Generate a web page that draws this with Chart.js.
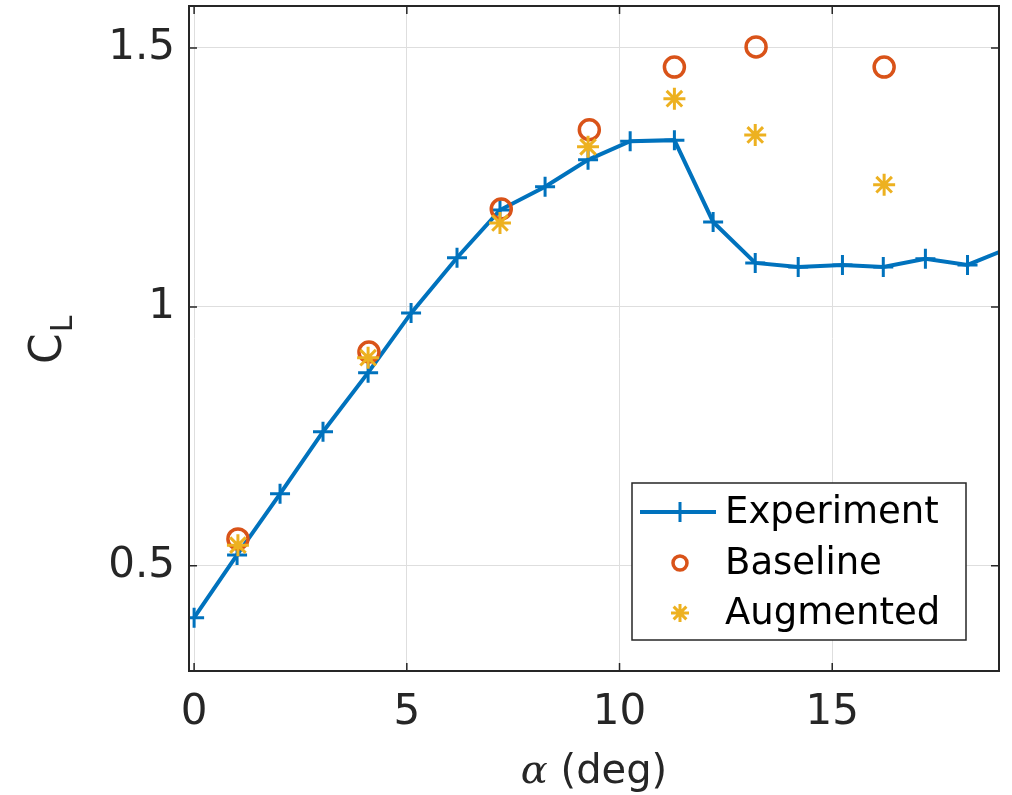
<!DOCTYPE html>
<html>
<head>
<meta charset="utf-8">
<script src="https://cdn.jsdelivr.net/npm/chart.js@4.4.1/dist/chart.umd.min.js"></script>
<style>
    body { margin: 0; background: #fff; }
    #wrap { width: 1012px; height: 795px; }
</style>
</head>
<body>
<div id="wrap"><canvas id="liftChart" width="1012" height="795"></canvas></div>
<script>
// Angle of attack (deg) and lift coefficient
const expAlpha = [0, 1.01, 2.02, 3.03, 4.09, 5.10, 6.18, 7.19, 8.25, 9.26, 10.25, 11.29, 12.20, 13.19, 14.20, 15.24, 16.20, 17.19, 18.18, 19.2];
const expCL = [0.40, 0.521, 0.639, 0.759, 0.873, 0.988, 1.095, 1.187, 1.232, 1.284, 1.320, 1.322, 1.164, 1.085, 1.077, 1.081, 1.077, 1.093, 1.081, 1.115];

const baseAlpha = [1.03, 4.11, 7.22, 9.29, 11.29, 13.21, 16.22];
const baseCL = [0.552, 0.913, 1.189, 1.342, 1.463, 1.502, 1.463];

const augAlpha = [1.03, 4.09, 7.19, 9.26, 11.29, 13.19, 16.22];
const augCL = [0.540, 0.902, 1.162, 1.309, 1.402, 1.332, 1.236];

const xTicks = [0, 5, 10, 15];
const yTicks = [0.5, 1, 1.5];

const toPoints = (xs, ys) => xs.map((x, i) => ({ x: x, y: ys[i] }));

const axisColor = '#262626';
const tickFont = { family: 'DejaVu Sans', size: 42 };

// box round the axes with inward ticks on all four sides
const boxPlugin = {
    id: 'box',
    afterDraw(chart) {
        const { ctx, chartArea: a, scales } = chart;
        ctx.save();
        ctx.strokeStyle = axisColor;
        ctx.lineWidth = 1.5;
        ctx.beginPath();
        xTicks.forEach(v => {
            const px = scales.x.getPixelForValue(v);
            ctx.moveTo(px, a.bottom); ctx.lineTo(px, a.bottom - 8);
            ctx.moveTo(px, a.top); ctx.lineTo(px, a.top + 8);
        });
        yTicks.forEach(v => {
            const py = scales.y.getPixelForValue(v);
            ctx.moveTo(a.left, py); ctx.lineTo(a.left + 8, py);
            ctx.moveTo(a.right, py); ctx.lineTo(a.right - 8, py);
        });
        ctx.stroke();
        ctx.lineWidth = 2;
        ctx.strokeRect(a.left, a.top, a.right - a.left, a.bottom - a.top);
        ctx.restore();
    }
};

// axis titles: C_L with subscript, italic alpha
const titlePlugin = {
    id: 'titles',
    afterDraw(chart) {
        const { ctx, chartArea: a } = chart;
        ctx.save();
        ctx.fillStyle = axisColor;
        ctx.textBaseline = 'alphabetic';

        // x title
        const f1 = 'italic 40px "DejaVu Serif"';
        const f2 = '40px "DejaVu Sans"';
        ctx.font = f1;
        const w1 = ctx.measureText('\u03b1').width;
        ctx.font = f2;
        const w2 = ctx.measureText(' (deg)').width;
        let x0 = (a.left + a.right) / 2 - (w1 + w2) / 2;
        ctx.font = f1;
        ctx.fillText('\u03b1', x0, 783);
        ctx.font = f2;
        ctx.fillText(' (deg)', x0 + w1, 783);

        // y title, rotated
        ctx.translate(61, 364);
        ctx.rotate(-Math.PI / 2);
        ctx.font = '44px "DejaVu Sans"';
        ctx.fillText('C', 0, 0);
        const wc = ctx.measureText('C').width;
        ctx.font = '30px "DejaVu Sans"';
        ctx.fillText('L', wc + 1, 11);
        ctx.restore();
    }
};

// legend box in the lower right corner of the axes
const legendPlugin = {
    id: 'boxLegend',
    afterDraw(chart) {
        const { ctx, chartArea: a } = chart;
        const left = a.right - 367, top = a.bottom - 188;
        const w = 334, h = 157;
        ctx.save();
        ctx.fillStyle = '#fff';
        ctx.fillRect(left, top, w, h);
        ctx.strokeStyle = axisColor;
        ctx.lineWidth = 1.5;
        ctx.strokeRect(left, top, w, h);

        const rows = [29, 80, 130];
        chart.data.datasets.forEach((ds, i) => {
            const y = top + rows[i];
            const mx = left + 48;
            ctx.strokeStyle = ds.borderColor;
            ctx.fillStyle = 'rgba(0,0,0,0)';
            if (ds.showLine) {
                ctx.lineWidth = ds.borderWidth;
                ctx.beginPath();
                ctx.moveTo(left + 8, y);
                ctx.lineTo(left + 84, y);
                ctx.stroke();
            }
            ctx.lineWidth = ds.pointBorderWidth;
            Chart.helpers.drawPoint(ctx, {
                pointStyle: ds.pointStyle,
                radius: ds.legendRadius,
                rotation: 0,
                borderWidth: ds.pointBorderWidth
            }, mx, y);
            ctx.fillStyle = '#000';
            ctx.font = '37px "DejaVu Sans"';
            ctx.textBaseline = 'middle';
            ctx.fillText(ds.label, left + 93, y + 1);
        });
        ctx.restore();
    }
};

const liftCtx = document.getElementById('liftChart').getContext('2d');
const liftChart = new Chart(liftCtx, {
    type: 'scatter',
    data: {
        datasets: [
            {
                label: 'Experiment',
                data: toPoints(expAlpha, expCL),
                showLine: true,
                borderColor: '#0072BD',
                backgroundColor: '#0072BD',
                borderWidth: 4,
                pointStyle: 'cross',
                pointRadius: 10,
                pointBorderWidth: 3,
                legendRadius: 10,
                order: 3
            },
            {
                label: 'Baseline',
                data: toPoints(baseAlpha, baseCL),
                showLine: false,
                borderColor: '#D95319',
                backgroundColor: 'rgba(0,0,0,0)',
                pointStyle: 'circle',
                pointRadius: 10,
                pointBorderWidth: 3.5,
                legendRadius: 7,
                order: 2
            },
            {
                label: 'Augmented',
                data: toPoints(augAlpha, augCL),
                showLine: false,
                borderColor: '#EDB120',
                backgroundColor: '#EDB120',
                pointStyle: 'star',
                pointRadius: 11,
                pointBorderWidth: 3,
                legendRadius: 9,
                order: 1
            }
        ]
    },
    options: {
        responsive: false,
        animation: false,
        devicePixelRatio: 1,
        layout: {
            autoPadding: false,
            padding: { top: 6, right: 13, left: 0, bottom: 0 }
        },
        plugins: {
            legend: { display: false },
            tooltip: { enabled: false }
        },
        scales: {
            x: {
                type: 'linear',
                min: -0.12,
                max: 18.92,
                afterBuildTicks: s => { s.ticks = xTicks.map(v => ({ value: v })); },
                afterFit: s => { s.height = 124; s.paddingLeft = 0; s.paddingRight = 0; },
                ticks: { color: axisColor, font: tickFont, padding: 17, maxRotation: 0, callback: v => String(v) },
                grid: { color: '#dedede', lineWidth: 1, drawTicks: false },
                border: { display: false }
            },
            y: {
                type: 'linear',
                min: 0.297,
                max: 1.581,
                afterBuildTicks: s => { s.ticks = yTicks.map(v => ({ value: v })); },
                afterFit: s => { s.width = 189; s.paddingTop = 0; s.paddingBottom = 0; },
                ticks: { color: axisColor, font: tickFont, padding: 14, callback: v => String(v) },
                grid: { color: '#dedede', lineWidth: 1, drawTicks: false },
                border: { display: false }
            }
        }
    },
    plugins: [boxPlugin, titlePlugin, legendPlugin]
});
</script>
</body>
</html>
